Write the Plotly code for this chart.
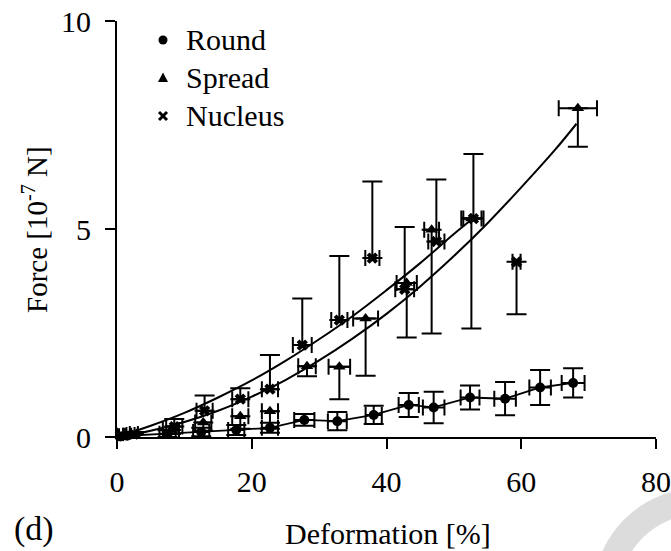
import plotly.graph_objects as go

# ---------------- data ----------------
round_x = [0.5, 1.5, 7.5, 12.5, 17.7, 22.7, 27.8, 32.7, 38.1, 43.3, 47.0, 52.4, 57.6, 62.8, 67.7]
round_y = [0.01, 0.03, 0.08, 0.12, 0.17, 0.22, 0.41, 0.38, 0.53, 0.77, 0.71, 0.95, 0.92, 1.19, 1.30]
round_xerr = [0.5, 0.6, 1.2, 1.2, 1.2, 1.2, 1.5, 1.4, 1.2, 1.5, 1.6, 1.4, 1.6, 1.6, 1.7]
round_yerr = [0.02, 0.03, 0.08, 0.10, 0.12, 0.12, 0.14, 0.22, 0.22, 0.29, 0.38, 0.29, 0.40, 0.42, 0.35]

spread_x = [0.8, 2.0, 8.0, 12.8, 18.3, 22.7, 28.2, 33.0, 36.9, 43.0, 46.7, 52.6, 68.4]
spread_y = [0.02, 0.05, 0.17, 0.35, 0.50, 0.62, 1.70, 1.69, 2.85, 3.70, 4.98, 5.25, 7.90]
spread_xerr = [0.5, 0.6, 1.2, 1.2, 1.2, 1.2, 1.3, 1.6, 1.85, 1.5, 1.1, 1.5, 2.84]
spread_yerr_minus = [0.02, 0.04, 0.10, 0.20, 0.30, 0.42, 0.24, 0.78, 1.38, 1.31, 2.49, 2.64, 0.92]

nucleus_x = [0.5, 2.5, 8.5, 13.0, 18.3, 22.7, 27.5, 33.0, 37.9, 42.7, 47.4, 52.9, 59.3]
nucleus_y = [0.03, 0.07, 0.25, 0.63, 0.91, 1.15, 2.21, 2.81, 4.30, 3.55, 4.70, 5.25, 4.21]
nucleus_xerr = [0.5, 0.6, 1.2, 1.2, 1.2, 1.2, 1.4, 1.2, 1.05, 1.4, 1.2, 1.5, 0.6]
nucleus_yerr_plus = [0.03, 0.05, 0.18, 0.37, 0.26, 0.82, 1.12, 1.54, 1.84, 1.50, 1.49, 1.55, 0.0]
nucleus_yerr_minus = [0, 0, 0, 0, 0, 0, 0, 0, 0, 0, 0, 0, 1.26]

# fitted curves
spread_fit_x = [0, 5, 10, 15, 20, 25, 30, 35, 40, 45, 50, 55, 60, 65, 68.2]
spread_fit_y = [0, 0.15, 0.36, 0.63, 0.97, 1.37, 1.84, 2.37, 2.96, 3.62, 4.35, 5.14, 6.00, 6.90, 7.53]
nucleus_fit_x = [0, 5, 10, 15, 20, 25, 30, 35, 40, 45, 50, 53.2]
nucleus_fit_y = [0, 0.27, 0.58, 0.95, 1.36, 1.83, 2.35, 2.91, 3.53, 4.18, 4.88, 5.30]

legend_labels = ["Round", "Spread", "Nucleus"]
x_ticks = [0, 20, 40, 60, 80]
y_ticks = [0, 5, 10]
x_title = "Deformation [%]"
y_title = "Force [10<sup>-7</sup> N]"

FONT = "Liberation Serif, Times New Roman, serif"
BLACK = "#000000"
FS = 30

fig = go.Figure()
err_style = dict(color=BLACK, thickness=2)

# fit lines
fig.add_trace(go.Scatter(x=spread_fit_x, y=spread_fit_y, mode="lines", line=dict(color=BLACK, width=2, shape="spline"),
                         showlegend=False, hoverinfo="skip", cliponaxis=False))
fig.add_trace(go.Scatter(x=nucleus_fit_x, y=nucleus_fit_y, mode="lines", line=dict(color=BLACK, width=2, shape="spline"),
                         showlegend=False, hoverinfo="skip", cliponaxis=False))
fig.add_trace(go.Scatter(x=round_x, y=round_y, mode="lines", line=dict(color=BLACK, width=1.8),
                         showlegend=False, hoverinfo="skip", cliponaxis=False))

# data series
fig.add_trace(go.Scatter(
    x=round_x, y=round_y, mode="markers", name=legend_labels[0], showlegend=False,
    marker=dict(symbol="circle", size=10, color=BLACK),
    error_x=dict(type="data", array=round_xerr, width=8, **err_style),
    error_y=dict(type="data", array=round_yerr, width=10, **err_style),
    cliponaxis=False))
fig.add_trace(go.Scatter(
    x=spread_x, y=spread_y, mode="markers", name=legend_labels[1], showlegend=False,
    marker=dict(symbol="triangle-up", size=11, color=BLACK),
    error_x=dict(type="data", array=spread_xerr, width=8, **err_style),
    error_y=dict(type="data", symmetric=False, array=[0] * len(spread_y),
                 arrayminus=spread_yerr_minus, width=10, **err_style),
    cliponaxis=False))
fig.add_trace(go.Scatter(
    x=nucleus_x, y=nucleus_y, mode="markers", name=legend_labels[2], showlegend=False,
    marker=dict(symbol="x", size=10, color=BLACK, line=dict(width=0)),
    error_x=dict(type="data", array=nucleus_xerr, width=8, **err_style),
    error_y=dict(type="data", symmetric=False, array=nucleus_yerr_plus,
                 arrayminus=nucleus_yerr_minus, width=10, **err_style),
    cliponaxis=False))

W, H = 671, 551
L, R, T, B = 117, 15, 21, 114
pw, ph = W - L - R, H - T - B


def px2paper(px, py):
    return (px - L) / pw, (H - B - py) / ph


# decorative grey ring in the lower-right corner
cx, cy, rad = 700, 595, 94
x0, y0 = px2paper(cx - rad, cy + rad)
x1, y1 = px2paper(cx + rad, cy - rad)
fig.add_shape(type="circle", xref="paper", yref="paper", x0=x0, y0=y0, x1=x1, y1=y1,
              line=dict(color="#dcdcdc", width=26), layer="below")

# legend (drawn by hand so its spacing matches)
leg_mx, leg_tx = 163, 184
leg_ys = [40, 78, 116]
for lab, py in zip(legend_labels, leg_ys):
    tx, ty = px2paper(leg_tx, py)
    fig.add_annotation(text=lab, xref="paper", yref="paper", x=tx, y=ty, xanchor="left", yanchor="middle",
                       showarrow=False, font=dict(family=FONT, size=FS, color=BLACK))
# circle
a0 = px2paper(leg_mx - 4.5, leg_ys[0] + 4.5)
a1 = px2paper(leg_mx + 4.5, leg_ys[0] - 4.5)
fig.add_shape(type="circle", xref="paper", yref="paper", x0=a0[0], y0=a0[1], x1=a1[0], y1=a1[1],
              fillcolor=BLACK, line=dict(color=BLACK, width=0))
# triangle
p1 = px2paper(leg_mx, leg_ys[1] - 5.5)
p2 = px2paper(leg_mx - 5, leg_ys[1] + 4)
p3 = px2paper(leg_mx + 5, leg_ys[1] + 4)
fig.add_shape(type="path", xref="paper", yref="paper",
              path=f"M {p1[0]},{p1[1]} L {p2[0]},{p2[1]} L {p3[0]},{p3[1]} Z",
              fillcolor=BLACK, line=dict(color=BLACK, width=0))
# x
for sx in (-1, 1):
    q0 = px2paper(leg_mx - 4, leg_ys[2] - 4 * sx)
    q1 = px2paper(leg_mx + 4, leg_ys[2] + 4 * sx)
    fig.add_shape(type="line", xref="paper", yref="paper", x0=q0[0], y0=q0[1], x1=q1[0], y1=q1[1],
                  line=dict(color=BLACK, width=3))

# axis titles and panel label
xt = px2paper(388, 533)
fig.add_annotation(text=x_title, xref="paper", yref="paper", x=xt[0], y=xt[1], xanchor="center", yanchor="middle",
                   showarrow=False, font=dict(family=FONT, size=FS, color=BLACK))
yt = px2paper(35, 230)
fig.add_annotation(text=y_title, xref="paper", yref="paper", x=yt[0], y=yt[1], xanchor="center", yanchor="middle",
                   textangle=-90, showarrow=False, font=dict(family=FONT, size=29, color=BLACK))
dx, dy = px2paper(12, 529)
fig.add_annotation(text="(d)", xref="paper", yref="paper", x=dx, y=dy, xanchor="left", yanchor="middle",
                   showarrow=False, font=dict(family=FONT, size=34, color=BLACK))

fig.update_layout(
    width=W, height=H,
    margin=dict(l=L, r=R, t=T, b=B, pad=0, autoexpand=False),
    paper_bgcolor="white", plot_bgcolor="white",
    font=dict(family=FONT, size=FS, color=BLACK),
    showlegend=False,
    xaxis=dict(range=[0, 80], tickvals=x_ticks, ticktext=[str(v) for v in x_ticks], automargin=False,
               showgrid=False, zeroline=False, showline=True, linecolor=BLACK, linewidth=2,
               ticks="outside", ticklen=10, tickwidth=2, tickcolor=BLACK,
               ticklabelstandoff=7),
    yaxis=dict(range=[0, 10], tickvals=y_ticks, ticktext=[str(v) for v in y_ticks], automargin=False,
               showgrid=False, zeroline=False, showline=True, linecolor=BLACK, linewidth=2,
               ticks="outside", ticklen=10, tickwidth=2, tickcolor=BLACK,
               ticklabelstandoff=8),
)

fig.write_html("out.html")
